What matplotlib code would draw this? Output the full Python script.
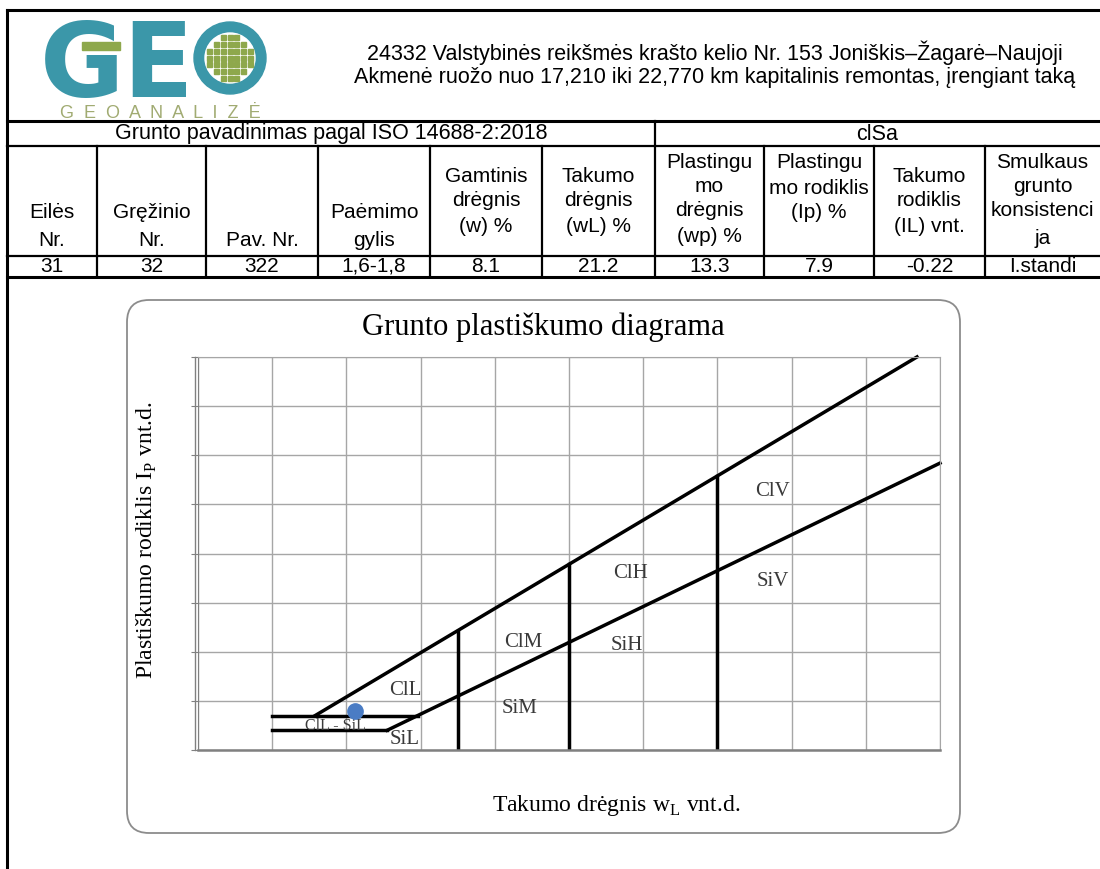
import matplotlib
matplotlib.use("Agg")
import matplotlib.pyplot as plt
from matplotlib.patches import FancyBboxPatch, Circle, Rectangle
import numpy as np

# duomenys
title_lines = ["24332 Valstybinės reikšmės krašto kelio Nr. 153 Joniškis–Žagarė–Naujoji",
               "Akmenė ruožo nuo 17,210 iki 22,770 km kapitalinis remontas, įrengiant taką"]
iso_name = "Grunto pavadinimas pagal ISO 14688-2:2018"
soil_name = "clSa"
headers = [["Eilės", "Nr."], ["Gręžinio", "Nr."], ["Pav. Nr."], ["Paėmimo", "gylis"],
           ["Gamtinis", "drėgnis", "(w) %"], ["Takumo", "drėgnis", "(wL) %"],
           ["Plastingu", "mo", "drėgnis", "(wp) %"], ["Plastingu", "mo rodiklis", "(Ip) %"],
           ["Takumo", "rodiklis", "(IL) vnt."], ["Smulkaus", "grunto", "konsistenci", "ja"]]
values = ["31", "32", "322", "1,6-1,8", "8.1", "21.2", "13.3", "7.9", "-0.22", "I.standi"]

sample_wl = [21.2]
sample_ip = [7.9]

# ribos (A ir U linijos, horizontalios, vertikalios)
a_line_wl = [25.5, 100]
u_line_wl = [15.8, 96.9]
low_h_ip = [4, 7]
low_h_wl_start = [10, 10]
vert_wl = [35, 50, 70]
zones = ["ClL", "SiL", "ClL - SiL", "ClM", "SiM", "ClH", "SiH", "ClV", "SiV"]


def a_line(wl):
    return 0.73 * (np.asarray(wl) - 20)


def u_line(wl):
    return 0.9 * (np.asarray(wl) - 8)


W, H = 1100, 869
fig = plt.figure(figsize=(W / 100, H / 100), dpi=100)
bg = fig.add_axes([0, 0, 1, 1])
bg.set_xlim(0, W)
bg.set_ylim(H, 0)
bg.axis("off")

sans = "Liberation Sans"
serif = "Liberation Serif"
fs = 15.5
tfs = 15

# rėmas
bg.plot([7, 7], [10, H], color="black", lw=2.2)
bg.plot([7, W], [10, 10], color="black", lw=2.2)

# logotipas
teal = "#3b97a9"
green = "#8ea84c"
bg.text(40, 97, "GE", fontsize=74, fontweight="bold", color=teal, family="DejaVu Sans",
        va="baseline", ha="left")
bg.add_patch(Rectangle((82, 42), 38, 8, color=green, zorder=3))
bg.add_patch(Circle((230, 58), 36, color=teal, zorder=3))
bg.add_patch(Circle((230, 58), 25, color="white", zorder=4))
for gx in range(-3, 4):
    for gy in range(-3, 4):
        cx, cy = 230 + gx * 6.8, 58 + gy * 6.8
        if (cx - 230) ** 2 + (cy - 58) ** 2 < 22 ** 2:
            bg.add_patch(Rectangle((cx - 2.5, cy - 2.5), 5, 5, color=green, zorder=5))
bg.text(160, 113, "G  E  O  A  N  A  L  I  Z  Ė", fontsize=13, color="#a1ab72", family=sans,
        ha="center", va="center")

bg.text(715, 53, title_lines[0], fontsize=fs, family=sans, ha="center", va="center")
bg.text(715, 77, title_lines[1], fontsize=fs, family=sans, ha="center", va="center")

# lentelė
cols = [7, 97, 206, 318, 430, 542, 655, 764, 874, 985, W]
bg.plot([7, W], [121, 121], color="black", lw=2.2)
bg.plot([7, W], [146, 146], color="black", lw=1.6)
bg.plot([7, W], [256, 256], color="black", lw=1.6)
bg.plot([7, W], [277, 277], color="black", lw=2.2)
bg.plot([655, 655], [121, 277], color="black", lw=1.6)
for x in cols[1:-1]:
    if x != 655:
        bg.plot([x, x], [146, 277], color="black", lw=1.6)

bg.text(331, 134, iso_name, fontsize=fs, family=sans, ha="center", va="center")
bg.text(877, 134, soil_name, fontsize=fs, family=sans, ha="center", va="center")

line_ys = {0: [213, 240], 1: [213, 240], 2: [240], 3: [213, 240],
           4: [177, 201, 226], 5: [177, 201, 226], 6: [163, 186, 210, 236],
           7: [163, 188, 212], 8: [177, 201, 226], 9: [163, 187, 211, 238]}
for i, lines in enumerate(headers):
    cx = (cols[i] + cols[i + 1]) / 2
    for y, s in zip(line_ys[i], lines):
        bg.text(cx, y, s, fontsize=tfs, family=sans, ha="center", va="center")
    bg.text(cx, 266.5, values[i], fontsize=tfs, family=sans, ha="center", va="center")

# diagramos fonas
bg.add_patch(FancyBboxPatch((127, 300), 833, 533, boxstyle="round,pad=0,rounding_size=22",
                            fc="white", ec="#8c8c8c", lw=1.3))
bg.text(543, 327, "Grunto plastiškumo diagrama", fontsize=22, family=serif,
        ha="center", va="center")
bg.text(147, 540, r"Plastiškumo rodiklis I$_\mathregular{P}$ vnt.d.", fontsize=17,
        family=serif, rotation=90, ha="center", va="center")
bg.text(616, 805, r"Takumo drėgnis w$_\mathregular{L}$ vnt.d.", fontsize=17,
        family=serif, ha="center", va="center")

ax = fig.add_axes([198 / W, (H - 750) / H, 742 / W, 393 / H])
ax.set_xlim(0, 100)
ax.set_ylim(0, 80)
ax.set_xticks(np.arange(0, 101, 10))
ax.set_yticks(np.arange(0, 81, 10))
ax.grid(True, color="#a6a6a6", lw=1)
ax.tick_params(axis="x", length=0, labelbottom=False)
ax.tick_params(axis="y", length=5, color="#808080", labelleft=False, direction="out")
for s in ["top", "right"]:
    ax.spines[s].set_color("#a6a6a6")
ax.spines["left"].set_color("#808080")
ax.spines["bottom"].set_color("#808080")
ax.spines["bottom"].set_linewidth(1.8)
ax.axvline(-0.35, color="#808080", lw=1, clip_on=False)
ax.set_axisbelow(True)

lw = 2.5
ax.plot(a_line_wl, a_line(a_line_wl), color="black", lw=lw, clip_on=False)
ax.plot(u_line_wl, u_line(u_line_wl), color="black", lw=lw, clip_on=False)
for ip, w0 in zip(low_h_ip, low_h_wl_start):
    w1 = ip / 0.73 + 20
    ax.plot([w0, w1], [ip, ip], color="black", lw=lw)
for w in vert_wl:
    ax.plot([w, w], [0, u_line(w)], color="black", lw=lw)

zone_xy = [(27.9, 12.2), (27.8, 2.2), (18.5, 4.8), (43.8, 21.8), (43.4, 8.4),
           (58.3, 36.0), (57.8, 21.2), (77.4, 52.6), (77.5, 34.3)]
for name, (x, y) in zip(zones, zone_xy):
    zfs = 11.5 if name == "ClL - SiL" else 15
    ax.text(x, y, name, fontsize=zfs, family=serif, color="#3a3a3a", ha="center", va="center",
            zorder=2)

ax.plot(sample_wl, sample_ip, "o", color="#4a7cc4", markersize=11, zorder=5)

fig.savefig("out.png", dpi=100)
